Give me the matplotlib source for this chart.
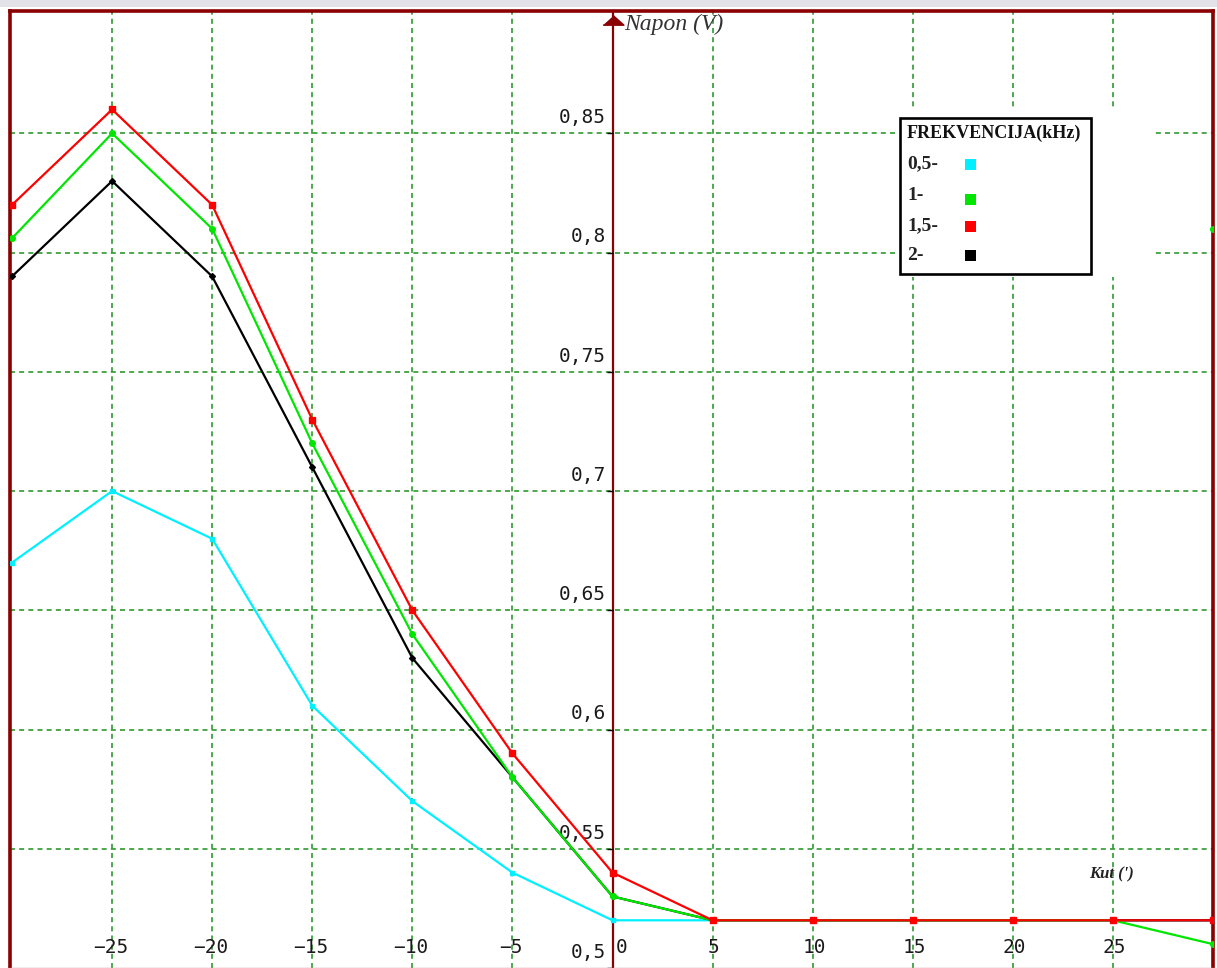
import matplotlib
matplotlib.use("Agg")
import matplotlib.pyplot as plt
from matplotlib.patches import Rectangle

# kut (deg) and napon (V)
kut = [-30, -25, -20, -15, -10, -5, 0, 5, 10, 15, 20, 25, 30]
napon_05 = [0.67, 0.70, 0.68, 0.61, 0.57, 0.54, 0.52, 0.52, 0.52, 0.52, 0.52, 0.52, 0.52]
napon_1 = [0.806, 0.85, 0.81, 0.72, 0.64, 0.58, 0.53, 0.52, 0.52, 0.52, 0.52, 0.52, 0.51]
napon_15 = [0.82, 0.86, 0.82, 0.73, 0.65, 0.59, 0.54, 0.52, 0.52, 0.52, 0.52, 0.52, 0.52]
napon_2 = [0.79, 0.83, 0.79, 0.71, 0.63, 0.58, 0.53, 0.52, 0.52, 0.52, 0.52, 0.52, 0.52]

freq_labels = ["0,5-", "1-", "1,5-", "2-"]
freq_colors = ["#00f0ff", "#00e600", "#ff0000", "#000000"]

x_ticks = [-25, -20, -15, -10, -5, 0, 5, 10, 15, 20, 25]
y_ticks = [0.5, 0.55, 0.6, 0.65, 0.7, 0.75, 0.8, 0.85]

W, H = 1217, 968
AXCOL = "#8b0000"
GRIDCOL = "#2f9a2f"


def px(x, y):
    # pixel (from top left) -> figure fraction
    return x / W, 1 - y / H


fig = plt.figure(figsize=(W / 100, H / 100), dpi=100)
ax = fig.add_axes([10 / W, 0, 1203 / W, 1 - 11 / H])
ax.set_xlim(-30.1, 30.0)
ax.set_ylim(0.5, 0.9013)
ax.set_xticks([])
ax.set_yticks([])
for s in ["top", "left", "right"]:
    ax.spines[s].set_color(AXCOL)
    ax.spines[s].set_linewidth(2.6)
ax.spines["bottom"].set_color("#d09a9a")
ax.spines["bottom"].set_linewidth(1.0)

# grid
for xv in x_ticks:
    if xv != 0:
        ax.axvline(xv, color=GRIDCOL, lw=1.2, dashes=(3, 2.5), zorder=1)
for yv in y_ticks[1:]:
    ax.axhline(yv, color=GRIDCOL, lw=1.2, dashes=(3, 2.5), zorder=1)

# vertical axis with arrow
ax.axvline(0, color=AXCOL, lw=1.6, zorder=2)
ax.plot([0], [0.8975], marker=[(-1, -0.45), (1, -0.45), (0, 0.45)],
        markersize=15, color=AXCOL, clip_on=False, zorder=6)
ax.plot([0] * len(y_ticks), y_ticks, linestyle="none", marker=0,
        markersize=4, color="black", markeredgewidth=1, zorder=3)

tick_font = dict(family="DejaVu Sans Mono", fontsize=14, color="#1a1a1a")
for yv in y_ticks:
    lab = f"{yv:g}".replace(".", ",")
    ax.annotate(lab, xy=(0, yv), xytext=(-5, 4.5), textcoords="offset points",
                ha="right", va="bottom", **tick_font)
for xv in x_ticks:
    lab = f"{xv:d}".replace("-", "\u2212")
    if xv == 0:
        ax.annotate(lab, xy=(0, 0.5), xytext=(2.5, 11), textcoords="offset points",
                    ha="left", va="baseline", **tick_font)
    else:
        ax.annotate(lab, xy=(xv, 0.5), xytext=(1 if xv > 0 else -1, 11),
                    textcoords="offset points", ha="center", va="baseline",
                    **tick_font)

# series
ax.plot(kut, napon_05, color=freq_colors[0], lw=1.6, marker="s", markersize=3, zorder=4)
ax.plot(kut, napon_2, color=freq_colors[3], lw=1.6, marker="D", markersize=3, zorder=4)
ax.plot(kut, napon_1, color=freq_colors[1], lw=1.6, marker="o", markersize=4, zorder=4)
ax.plot(kut, napon_15, color=freq_colors[2], lw=1.6, marker="s", markersize=5, zorder=5)
ax.plot([30], [0.81], color=freq_colors[1], marker="o", markersize=4, zorder=4)

# axis titles
fig.text(*px(624, 24), "Napon (V)", family="Liberation Serif", style="italic",
         fontsize=17, color="#333333", ha="left", va="center")
fig.text(*px(1089, 874), "Kut (')", family="Liberation Serif", style="italic",
         fontsize=12, fontweight="bold", color="#222222", ha="left", va="center")

# legend drawn by hand
fig.add_artist(Rectangle(px(895, 277), 260 / W, 169 / H, transform=fig.transFigure,
                         facecolor="white", edgecolor="none", zorder=5))
fig.add_artist(Rectangle(px(900, 274), 191 / W, 156 / H, transform=fig.transFigure,
                         facecolor="white", edgecolor="black", lw=1.9, zorder=6))
fig.text(*px(907, 133), "FREKVENCIJA(kHz)", family="Liberation Serif",
         fontweight="bold", fontsize=13, color="#111111", ha="left", va="center",
         zorder=7)
entry_y = [164, 196, 226, 255]
square_y = [164, 199, 226, 255]
for lab, col, ty, sy in zip(freq_labels, freq_colors, entry_y, square_y):
    fig.text(*px(907, ty), lab, family="Liberation Serif", fontweight="bold",
             fontsize=14, color="#222222", ha="left", va="center", zorder=7)
    fig.add_artist(Rectangle(px(965, sy + 5.5), 11 / W, 11 / H,
                             transform=fig.transFigure, facecolor=col,
                             edgecolor="none", zorder=7))

# light strip along the top edge
fig.add_artist(Rectangle((0, 1 - 7 / H), 1, 7 / H, transform=fig.transFigure,
                         facecolor="#e2e2e8", edgecolor="none", zorder=8))

fig.savefig("out.png", dpi=100)
